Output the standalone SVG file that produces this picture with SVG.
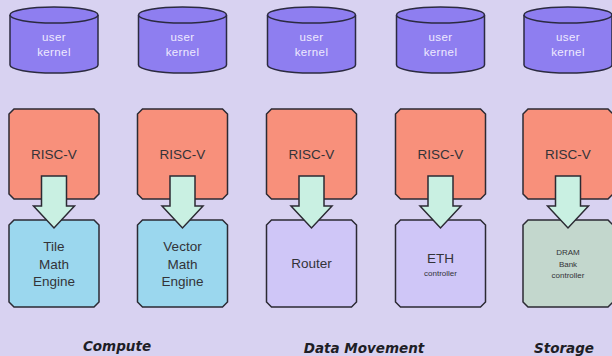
<svg xmlns="http://www.w3.org/2000/svg" width="612" height="356" viewBox="0 0 612 356">
<defs>
<style>
.bg{fill:#d8d2f1}
.cyl{fill:#8e7ef0;stroke:#2b2a40;stroke-width:1.5}
.risc{fill:#f8907b;stroke:#2b2a33;stroke-width:1.5}
.blue{fill:#9bd7ee;stroke:#2b2a33;stroke-width:1.5}
.lav{fill:#cfc6f7;stroke:#2b2a33;stroke-width:1.5}
.grn{fill:#c3d7cd;stroke:#2b2a33;stroke-width:1.5}
.arr{fill:#c9f0e2;stroke:#2b2a33;stroke-width:1.5}
.ck{font-family:"Liberation Sans",Arial,sans-serif;font-size:11.5px;letter-spacing:0.4px;fill:#efeaff;text-anchor:middle}
.t{font-family:"Liberation Sans",Arial,sans-serif;font-size:13.5px;fill:#333338;text-anchor:middle}
.s{font-family:"Liberation Sans",Arial,sans-serif;font-size:8px;fill:#333338;text-anchor:middle}
.cap{font-family:"DejaVu Sans",Verdana,sans-serif;font-size:13.5px;font-weight:bold;font-style:italic;fill:#1e1e26;text-anchor:middle}
</style>
<g id="cylShape">
<path d="M-44,15 V65 A44,8 0 0 0 44,65 V15"/>
<ellipse cx="0" cy="15" rx="44" ry="8"/>
</g>
<path id="oct" d="M-40,0 H40 L45,5 V85 L40,90 H-40 L-45,85 V5 Z"/>
<path id="oct2" d="M-40,0 H40 L45,5 V82 L40,87 H-40 L-45,82 V5 Z"/>
<path id="arrow" d="M-12.5,0 H12.5 V30 H20.5 L0,52 L-20.5,30 H-12.5 Z"/>
</defs>
<rect class="bg" x="0" y="0" width="612" height="356"/>

<g id="kernel1"><use href="#cylShape" class="cyl" x="54" y="0"/><text class="ck" x="54" y="41">user</text><text class="ck" x="54" y="56">kernel</text></g>
<g id="kernel2"><use href="#cylShape" class="cyl" x="182.5" y="0"/><text class="ck" x="182.5" y="41">user</text><text class="ck" x="182.5" y="56">kernel</text></g>
<g id="kernel3"><use href="#cylShape" class="cyl" x="311.5" y="0"/><text class="ck" x="311.5" y="41">user</text><text class="ck" x="311.5" y="56">kernel</text></g>
<g id="kernel4"><use href="#cylShape" class="cyl" x="440.5" y="0"/><text class="ck" x="440.5" y="41">user</text><text class="ck" x="440.5" y="56">kernel</text></g>
<g id="kernel5"><use href="#cylShape" class="cyl" x="568" y="0"/><text class="ck" x="568" y="41">user</text><text class="ck" x="568" y="56">kernel</text></g>

<g id="risc1"><use href="#oct" class="risc" x="54" y="109"/><text class="t" x="54" y="159">RISC-V</text></g>
<g id="risc2"><use href="#oct" class="risc" x="182.5" y="109"/><text class="t" x="182.5" y="159">RISC-V</text></g>
<g id="risc3"><use href="#oct" class="risc" x="311.5" y="109"/><text class="t" x="311.5" y="159">RISC-V</text></g>
<g id="risc4"><use href="#oct" class="risc" x="440.5" y="109"/><text class="t" x="440.5" y="159">RISC-V</text></g>
<g id="risc5"><use href="#oct" class="risc" x="568" y="109"/><text class="t" x="568" y="159">RISC-V</text></g>

<g id="tile"><use href="#oct2" class="blue" x="54" y="220"/><text class="t" x="54" y="251">Tile</text><text class="t" x="54" y="269">Math</text><text class="t" x="54" y="286">Engine</text></g>
<g id="vector"><use href="#oct2" class="blue" x="182.5" y="220"/><text class="t" x="182.5" y="251">Vector</text><text class="t" x="182.5" y="269">Math</text><text class="t" x="182.5" y="286">Engine</text></g>
<g id="router"><use href="#oct2" class="lav" x="311.5" y="220"/><text class="t" x="311.5" y="268">Router</text></g>
<g id="eth"><use href="#oct2" class="lav" x="440.5" y="220"/><text class="t" x="440.5" y="263">ETH</text><text class="s" x="440.5" y="276">controller</text></g>
<g id="dram"><use href="#oct2" class="grn" x="568" y="220"/><text class="s" x="568" y="255">DRAM</text><text class="s" x="568" y="267">Bank</text><text class="s" x="568" y="278">controller</text></g>

<g id="connectors">
<use href="#arrow" class="arr" x="54" y="176"/>
<use href="#arrow" class="arr" x="182.5" y="176"/>
<use href="#arrow" class="arr" x="311.5" y="176"/>
<use href="#arrow" class="arr" x="440.5" y="176"/>
<use href="#arrow" class="arr" x="568" y="176"/>
</g>

<text class="cap" x="117" y="351">Compute</text>
<text class="cap" x="364" y="353">Data Movement</text>
<text class="cap" x="564" y="353">Storage</text>
</svg>
